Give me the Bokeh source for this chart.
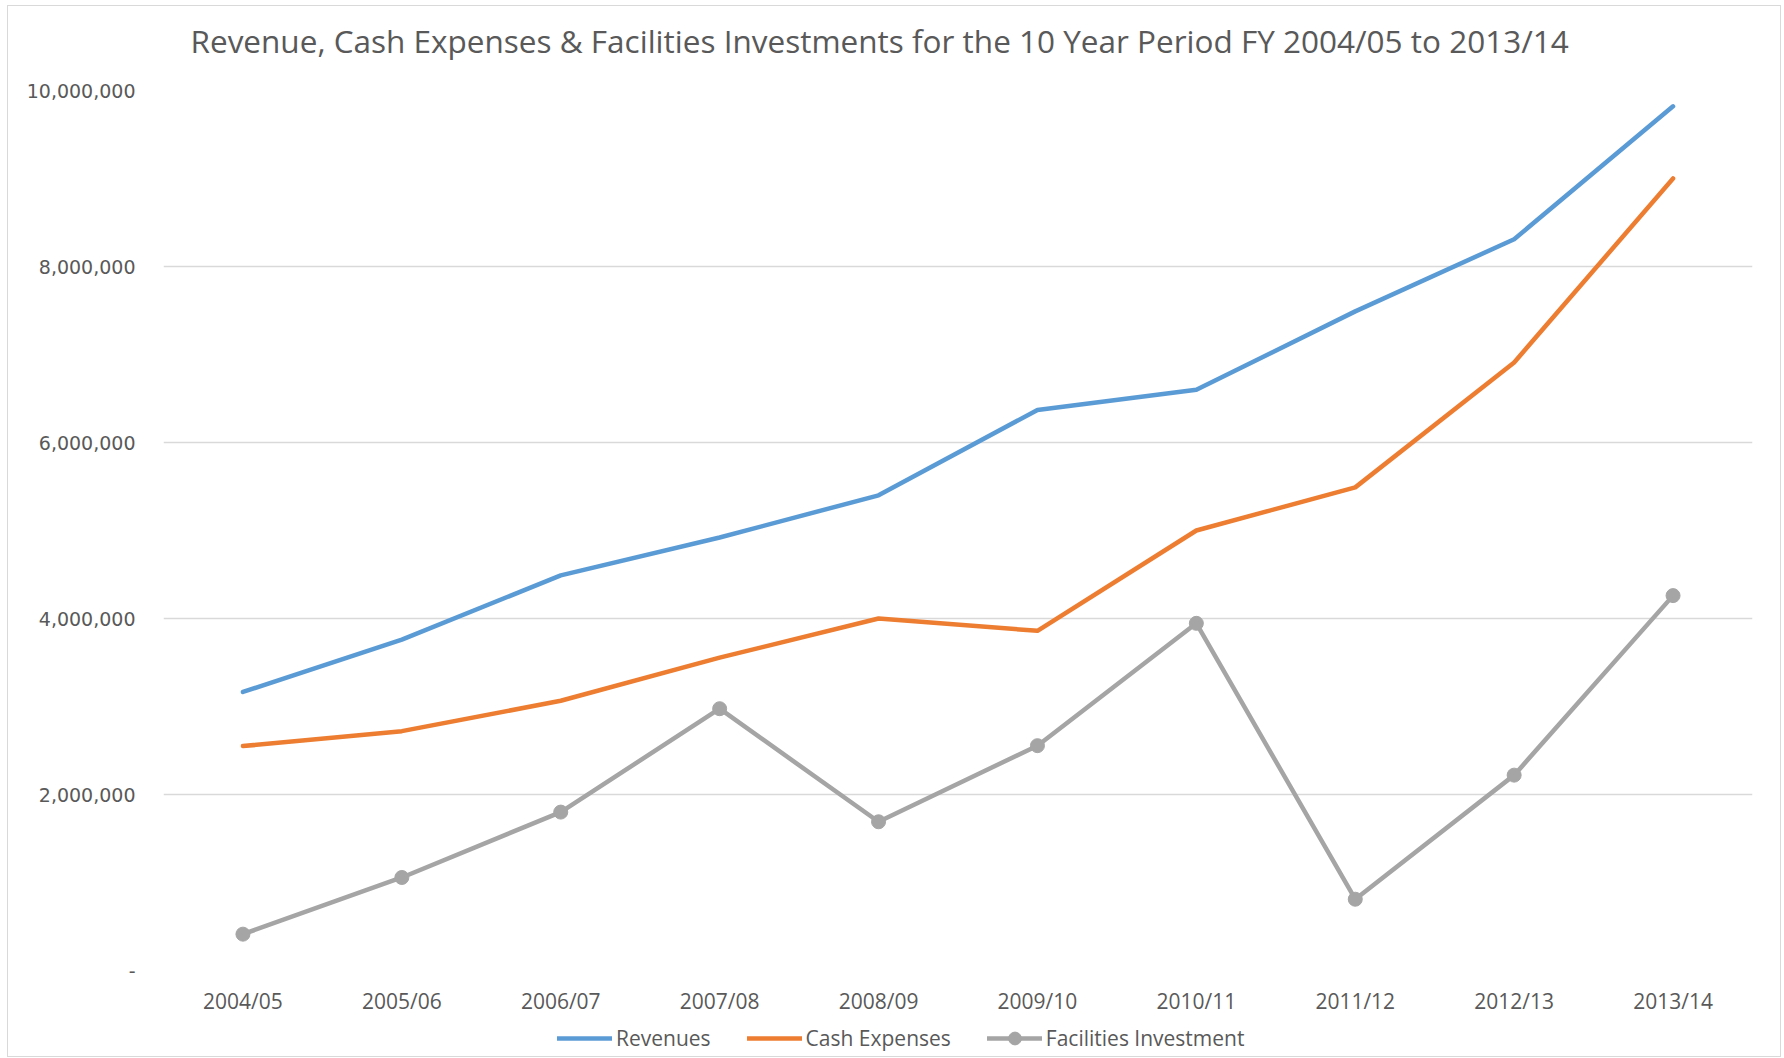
from bokeh.plotting import figure
from bokeh.layouts import column
from bokeh.models import (Range1d, FactorRange, FixedTicker, NumeralTickFormatter,
                          Legend, LegendItem)
from bokeh.embed import file_html
from bokeh.resources import INLINE

# ---- data ----
years = ["2004/05", "2005/06", "2006/07", "2007/08", "2008/09",
         "2009/10", "2010/11", "2011/12", "2012/13", "2013/14"]
revenues = [3165000, 3760000, 4490000, 4920000, 5400000,
            6370000, 6600000, 7490000, 8310000, 9820000]
cash_expenses = [2550000, 2720000, 3065000, 3555000, 4000000,
                 3860000, 5000000, 5490000, 6910000, 9000000]
facilities = [413000, 1057000, 1800000, 2975000, 1690000,
              2555000, 3945000, 810000, 2220000, 4260000]
y_ticks = [0, 2000000, 4000000, 6000000, 8000000, 10000000]
series_names = ["Revenues", "Cash Expenses", "Facilities Investment"]

title_text = "Revenue, Cash Expenses  & Facilities Investments for the 10 Year Period FY 2004/05 to 2013/14"

TXT = "#595959"
GRID = "#D9D9D9"
BLUE = "#5B9BD5"
ORANGE = "#ED7D31"
GRAY = "#A5A5A5"
W = 1772
MBL = 155
MBR = 28


def strip(height, top=0):
    f = figure(width=W, height=height, x_range=FactorRange(*years),
               y_range=Range1d(-2, -1), output_backend="svg",
               toolbar_location=None, min_border_left=0, min_border_right=0,
               min_border_top=top, min_border_bottom=0)
    f.axis.visible = False
    f.grid.visible = False
    f.outline_line_color = None
    f.border_fill_color = "white"
    f.background_fill_color = "white"
    return f


# ---- title strip ----
tf = strip(64, top=55)
tf.title.text = title_text
tf.title.align = "left"
tf.title.offset = 27
tf.title.standoff = 0
tf.title.text_font = "Open Sans"
tf.title.text_font_size = "31.5px"
tf.title.text_font_style = "normal"
tf.title.text_color = TXT

# ---- main chart ----
p = figure(width=W, height=950, x_range=tf.x_range,
           y_range=Range1d(0, 10000000),
           output_backend="svg", toolbar_location=None,
           min_border_left=MBL, min_border_right=MBR,
           min_border_top=20, min_border_bottom=50)
p.outline_line_color = None
p.background_fill_color = "white"
p.border_fill_color = "white"

p.xgrid.grid_line_color = None
p.ygrid.grid_line_color = GRID
p.ygrid.grid_line_width = 1.5

p.yaxis.ticker = FixedTicker(ticks=y_ticks)
p.yaxis.formatter = NumeralTickFormatter(format="0,0")
p.yaxis.major_label_overrides = {0: "-"}
p.yaxis.axis_line_color = None
p.yaxis.major_tick_line_color = None
p.yaxis.minor_tick_line_color = None
p.yaxis.major_label_standoff = 22
p.yaxis.major_label_text_font = "DejaVu Sans"
p.yaxis.major_label_text_font_size = "19px"
p.yaxis.major_label_text_color = TXT

p.xaxis.axis_line_color = None
p.xaxis.major_tick_line_color = None
p.xaxis.minor_tick_line_color = None
p.xaxis.major_label_standoff = 10
p.xaxis.major_label_text_font = "Open Sans"
p.xaxis.major_label_text_font_size = "21px"
p.xaxis.major_label_text_color = TXT

line_kw = dict(line_width=4.5, line_cap="round", line_join="round")
p.line(years, revenues, line_color=BLUE, **line_kw)
p.line(years, cash_expenses, line_color=ORANGE, **line_kw)
p.line(years, facilities, line_color=GRAY, **line_kw)
p.scatter(years, facilities, marker="circle", size=14,
          fill_color=GRAY, line_color=GRAY)

# ---- legend strip (same series, drawn off-range so only the legend shows) ----
lg = strip(36)
lg.x_range = tf.x_range
lg_rev = lg.line(years, revenues, line_color=BLUE, **line_kw)
lg_cash = lg.line(years, cash_expenses, line_color=ORANGE, **line_kw)
lg_fac = lg.line(years, facilities, line_color=GRAY, **line_kw)
lg_fac_m = lg.scatter(years, facilities, marker="circle", size=14,
                      fill_color=GRAY, line_color=GRAY)

legend = Legend(items=[
    LegendItem(label=series_names[0], renderers=[lg_rev]),
    LegendItem(label=series_names[1], renderers=[lg_cash]),
    LegendItem(label=series_names[2], renderers=[lg_fac, lg_fac_m]),
], orientation="horizontal", location=(394, 2))
legend.border_line_color = None
legend.background_fill_alpha = 0
legend.label_text_font = "Open Sans"
legend.label_text_font_size = "21px"
legend.label_text_color = TXT
legend.glyph_width = 55
legend.glyph_height = 32
legend.label_height = 16
legend.label_standoff = 4
legend.spacing = 36
legend.padding = 0
legend.margin = 0
lg.add_layout(legend, "center")

layout = column(tf, p, lg, spacing=0,
                styles={"border": "1px solid #D9D9D9",
                        "margin-left": "7px", "margin-top": "5px"})

open("out.html", "w").write(file_html(layout, INLINE))
